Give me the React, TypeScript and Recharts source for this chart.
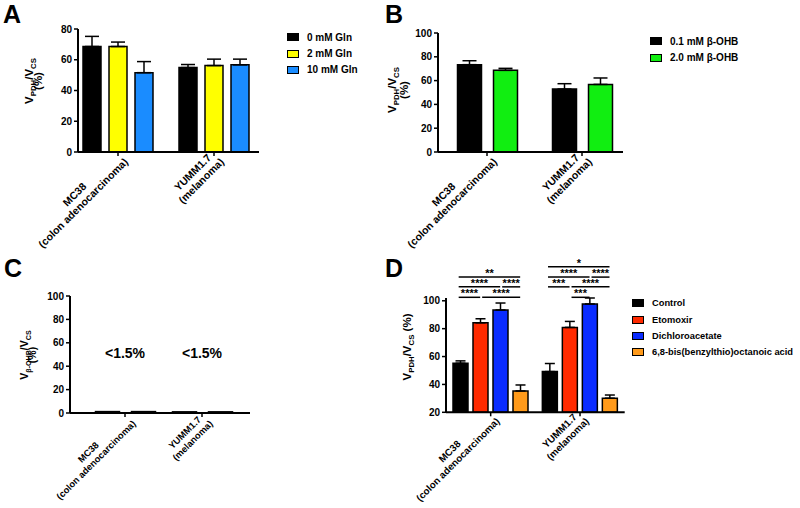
import React from "react";
import { BarChart, Bar, XAxis, YAxis, ErrorBar, Legend, ReferenceLine, ReferenceDot } from "recharts";

const FONT = "'Liberation Sans', Arial, Helvetica, sans-serif";

const cellLines = ["MC38\n(colon adenocarcinoma)", "YUMM1.7\n(melanoma)"];

// A: glutamine
const glnNames = ["0 mM Gln", "2 mM Gln", "10 mM Gln"];
const glnColors = ["#000000", "#ffff00", "#1a8cff"];
const gln0 = [68.6, 54.9];
const gln0Err = [6.6, 2.0];
const gln2 = [68.6, 56.2];
const gln2Err = [2.9, 4.2];
const gln10 = [51.6, 56.7];
const gln10Err = [7.2, 3.7];
const ticksA = [0, 20, 40, 60, 80];

// B: beta-hydroxybutyrate
const ohbNames = ["0.1 mM β-OHB", "2.0 mM β-OHB"];
const ohbColors = ["#000000", "#11ee11"];
const ohbLow = [73.4, 52.9];
const ohbLowErr = [3.3, 4.5];
const ohbHigh = [68.6, 56.8];
const ohbHighErr = [1.7, 5.4];
const ticksBC = [0, 20, 40, 60, 80, 100];

// C: beta-OHB flux
const fluxLow = [1.2, 1.0];
const fluxHigh = [1.2, 1.0];
const fluxNote = ["<1.5%", "<1.5%"];

// D: drugs
const drugNames = ["Control", "Etomoxir", "Dichloroacetate", "6,8-bis(benzylthio)octanoic acid"];
const drugColors = ["#000000", "#ff2a00", "#0a2cff", "#ff9a1a"];
const control = [55.2, 49.2];
const controlErr = [1.7, 5.8];
const etomoxir = [84.2, 80.9];
const etomoxirErr = [2.9, 4.3];
const dca = [93.4, 97.7];
const dcaErr = [5.0, 4.3];
const bbtoa = [35.3, 30.1];
const bbtoaErr = [4.3, 2.3];
const ticksD = [20, 40, 60, 80, 100];
// [group, from bar, to bar, row, stars]
const sigPairs: [number, number, number, number, string][] = [
  [0, 0, 1, 0, "****"],
  [0, 1, 3, 0, "****"],
  [0, 0, 2, 1, "****"],
  [0, 2, 3, 1, "****"],
  [0, 0, 3, 2, "**"],
  [1, 1, 2, 0, "***"],
  [1, 0, 1, 1, "***"],
  [1, 1, 3, 1, "****"],
  [1, 0, 2, 2, "****"],
  [1, 2, 3, 2, "****"],
  [1, 0, 3, 3, "*"],
];
const sigLevels = [102.5, 110, 117, 124.5];

const rowsOf = (vals: number[][], errs?: number[][]) =>
  cellLines.map((cell, i) => {
    const r: any = { cell };
    vals.forEach((v, k) => {
      r[`s${k}`] = v[i];
      if (errs) r[`e${k}`] = [0, errs[k][i]];
    });
    return r;
  });

const dataA = rowsOf([gln0, gln2, gln10], [gln0Err, gln2Err, gln10Err]);
const dataB = rowsOf([ohbLow, ohbHigh], [ohbLowErr, ohbHighErr]);
const dataC = rowsOf([fluxLow, fluxHigh]);
const dataD = rowsOf([control, etomoxir, dca, bbtoa], [controlErr, etomoxirErr, dcaErr, bbtoaErr]);

const XH = 90;
const axisStyle = { stroke: "#000", strokeWidth: 2 };
const tickStyle = { stroke: "#000", strokeWidth: 1.5 };

let ctx: CanvasRenderingContext2D | null = null;
const textWidth = (t: string, font: string) => {
  if (!ctx) ctx = document.createElement("canvas").getContext("2d");
  if (!ctx) return t.length * 6;
  ctx.font = font;
  return ctx.measureText(t).width;
};

// two-line category label, lines centred on each other, rotated -45deg
function CellTick({ x, y, payload, fs, base, lh }: any) {
  const lines = String(payload.value).split("\n");
  const w = Math.max(...lines.map((l) => textWidth(l, `bold ${fs}px ${FONT}`)));
  return (
    <g transform={`translate(${x},${y - 6})`}>
      <text transform="rotate(-45 0 0)" textAnchor="middle" fontFamily={FONT} fontWeight="bold" fontSize={fs} fill="#000">
        {lines.map((l, i) => (
          <tspan key={i} x={-w / 2} y={base + i * lh}>
            {l}
          </tspan>
        ))}
      </text>
    </g>
  );
}

type Part = [string, boolean];
const pdh: Part[] = [["V", false], ["PDH", true], ["/V", false], ["CS", true]];
const ohb: Part[] = [["V", false], ["β-OHB", true], ["/V", false], ["CS", true]];

function Title({ x, y, fs, parts, second, gap }: any) {
  return (
    <g fontFamily={FONT} fontWeight="bold" fill="#000">
      <text x={x} y={y} transform={`rotate(-90, ${x}, ${y})`} textAnchor="middle" fontSize={fs}>
        {parts.map(([t, sub]: Part, i: number) => (
          <tspan key={i} fontSize={sub ? fs * 0.68 : fs} dy={sub ? fs * 0.3 : i > 0 && parts[i - 1][1] ? -fs * 0.3 : 0}>
            {t}
          </tspan>
        ))}
      </text>
      {second && (
        <text x={x + gap} y={y} transform={`rotate(-90, ${x + gap}, ${y})`} textAnchor="middle" fontSize={fs}>
          {second}
        </text>
      )}
    </g>
  );
}

function LegendBox({ names, colors, fs }: { names: string[]; colors: string[]; fs: number }) {
  return (
    <div style={{ fontFamily: FONT, fontWeight: "bold", fontSize: fs, color: "#000" }}>
      {names.map((n, k) => (
        <div key={n} style={{ display: "flex", alignItems: "center", height: 16.4, whiteSpace: "nowrap" }}>
          <span
            style={{ display: "inline-block", width: 10, height: 6, background: colors[k], border: "1.5px solid #000", marginRight: 8 }}
          />
          {n}
        </div>
      ))}
    </div>
  );
}

function Panel({ box, plot, data, names, colors, hasErr, domain, ticks, pad, barSize, barGap, cap, title, legend, legendFs, cat, children }: any) {
  const [W, H] = box;
  const [pl, pt, pr, pb] = plot;
  return (
    <BarChart
      width={W}
      height={H}
      data={data}
      barGap={barGap}
      margin={{ top: pt, right: W - pr, bottom: H - pb - XH, left: 0 }}
    >
      <XAxis
        dataKey="cell"
        height={XH}
        padding={pad}
        interval={0}
        tickSize={4}
        axisLine={axisStyle}
        tickLine={tickStyle}
        tick={(p: any) => <CellTick {...p} {...cat} />}
      />
      <YAxis
        width={pl}
        domain={domain}
        ticks={ticks}
        interval={0}
        allowDataOverflow
        tickSize={4}
        axisLine={axisStyle}
        tickLine={tickStyle}
        tick={{ fill: "#000", fontSize: 10, fontWeight: "bold", fontFamily: FONT }}
        label={{ content: () => title }}
      />
      {names.map((n: string, k: number) => (
        <Bar
          key={n}
          dataKey={`s${k}`}
          name={n}
          fill={colors[k]}
          stroke="#000"
          strokeWidth={1.5}
          barSize={barSize}
          isAnimationActive={false}
        >
          {hasErr && <ErrorBar dataKey={`e${k}`} width={cap} stroke="#000" strokeWidth={1.5} isAnimationActive={false} />}
        </Bar>
      ))}
      {legend && (
        <Legend
          layout="vertical"
          align="center"
          verticalAlign="middle"
          wrapperStyle={{ left: legend[0], top: legend[1], width: "auto" }}
          content={() => <LegendBox names={names} colors={colors} fs={legendFs || 10} />}
        />
      )}
      {children}
    </BarChart>
  );
}

const catBig = { fs: 10.5, base: 3, lh: 12 };
const catMid = { fs: 9.8, base: 2, lh: 11.5 };
const catSmall = { fs: 9.3, base: 5, lh: 11 };

// panel D layout, used to place the significance brackets on a hidden numeric axis (0..1 = plot width)
const dPlot = [76, 48, 254.7, 162.3];
const dBar = 15;
const dGap = 5;
const dPlotW = dPlot[2] - dPlot[0];
const barCenter = (g: number, k: number) => (g + 0.5) / 2 + ((k - 1.5) * (dBar + dGap)) / dPlotW;
const px = (v: number) => v / dPlotW;

function Letter({ x, y, t }: { x: number; y: number; t: string }) {
  return (
    <div style={{ position: "absolute", left: x, top: y - 21, font: `bold 25px ${FONT}`, lineHeight: "25px", color: "#000" }}>
      {t}
    </div>
  );
}

export default function App() {
  return (
    <div style={{ position: "absolute", left: 0, top: 0, width: 800, height: 508, background: "#fff", overflow: "hidden" }}>
      <div style={{ position: "absolute", left: 0, top: 0 }}>
        <Panel
          box={[400, 262]}
          plot={[78, 29, 259, 152]}
          data={dataA}
          names={glnNames}
          colors={glnColors}
          hasErr
          domain={[0, 80]}
          ticks={ticksA}
          pad={{ left: -8, right: -3 }}
          barSize={18}
          barGap={8}
          cap={7}
          legend={[287, 29]}
          cat={catBig}
          title={<Title x={33} y={81} fs={11.5} parts={pdh} second="(%)" gap={9} />}
        />
      </div>
      <div style={{ position: "absolute", left: 370, top: 0 }}>
        <Panel
          box={[430, 262]}
          plot={[68, 33, 253, 152]}
          data={dataB}
          names={ohbNames}
          colors={ohbColors}
          hasErr
          domain={[0, 100]}
          ticks={ticksBC}
          pad={{ left: 1.5, right: -6.5 }}
          barSize={24}
          barGap={12}
          cap={7}
          legend={[280, 33]}
          cat={catBig}
          title={<Title x={26} y={90} fs={11.5} parts={pdh} second="(%)" gap={12} />}
        />
      </div>
      <div style={{ position: "absolute", left: 0, top: 250 }}>
        <Panel
          box={[400, 258]}
          plot={[70, 46, 250, 163]}
          data={dataC}
          names={ohbNames}
          colors={["#000000", "#000000"]}
          domain={[0, 100]}
          ticks={ticksBC}
          pad={{ left: 16.5, right: 9.5 }}
          barSize={24}
          barGap={12}
          cap={7}
          cat={catSmall}
          title={<Title x={28} y={105} fs={10.5} parts={ohb} second="(%)" gap={8} />}
        >
          {cellLines.map((c, i) => (
            <ReferenceDot
              key={c}
              x={c}
              y={51}
              r={0}
              fill="none"
              stroke="none"
              ifOverflow="visible"
              label={{ value: fluxNote[i], position: "center", fontSize: 14, fontWeight: "bold", fill: "#000", fontFamily: FONT }}
            />
          ))}
        </Panel>
      </div>
      <div style={{ position: "absolute", left: 370, top: 250 }}>
        <Panel
          box={[430, 258]}
          plot={dPlot}
          data={dataD}
          names={drugNames}
          colors={drugColors}
          hasErr
          domain={[20, 102]}
          ticks={ticksD}
          pad={{ left: 0, right: 0 }}
          barSize={dBar}
          barGap={dGap}
          cap={5}
          legend={[262, 45]}
          legendFs={9.3}
          cat={catMid}
          title={<Title x={41} y={97} fs={11.5} parts={[...pdh, [" (%)", false]]} />}
        >
          <XAxis xAxisId="pos" type="number" domain={[0, 1]} allowDataOverflow hide />
          {sigPairs.map(([g, a, b, row, stars], i) => (
            <ReferenceLine
              key={i}
              xAxisId="pos"
              ifOverflow="visible"
              stroke="#000"
              strokeWidth={1.5}
              segment={[
                { x: barCenter(g, a) + px(a === 0 ? -2 : 1.5), y: sigLevels[row] },
                { x: barCenter(g, b) + px(-0.5), y: sigLevels[row] },
              ]}
              label={{ value: stars, position: "top", offset: 0, fontSize: 11, fontWeight: "bold", fill: "#000", fontFamily: FONT }}
            />
          ))}
        </Panel>
      </div>
      <Letter x={3} y={23} t="A" />
      <Letter x={385} y={23} t="B" />
      <Letter x={4} y={277} t="C" />
      <Letter x={385} y={277} t="D" />
    </div>
  );
}
